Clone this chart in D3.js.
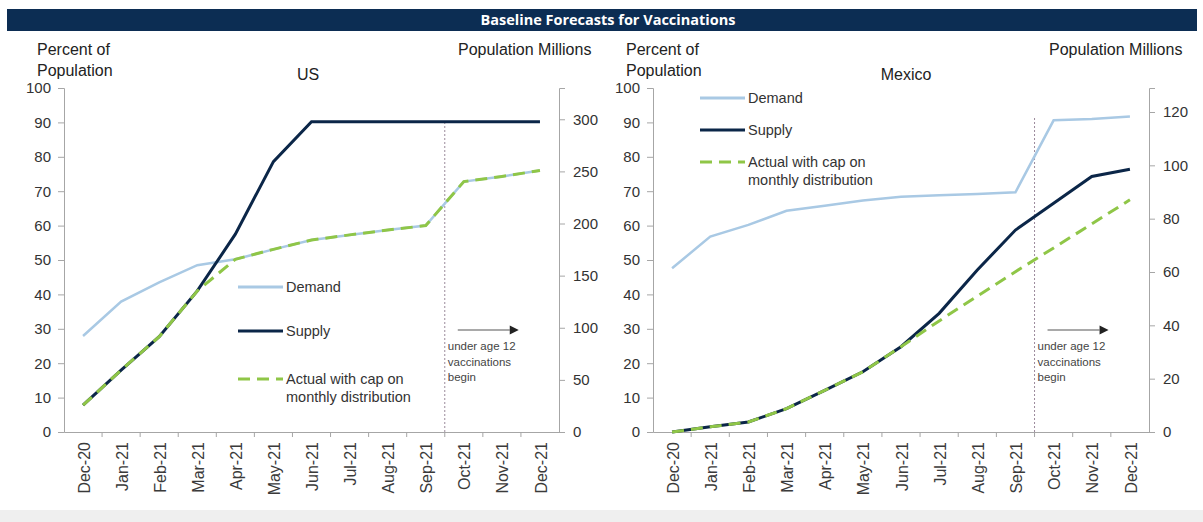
<!DOCTYPE html>
<html>
<head>
<meta charset="utf-8">
<script src="https://cdn.jsdelivr.net/npm/d3@7"></script>
<style>
  body { margin: 0; background: #fff; }
  svg { display: block; font-family: "Liberation Sans", Arial, sans-serif; }
</style>
</head>
<body>
<svg id="chart" width="1203" height="522"></svg>
<script>
// months along the bottom
var months = ["Dec-20", "Jan-21", "Feb-21", "Mar-21", "Apr-21", "May-21", "Jun-21",
              "Jul-21", "Aug-21", "Sep-21", "Oct-21", "Nov-21", "Dec-21"];

// US, percent of population
var usDemand = [27.9, 37.9, 43.5, 48.5, 50.2, 53.1, 55.8, 57.3, 58.7, 60, 72.8, 74.3, 76];
var usSupply = [7.8, 18, 27.7, 41, 57.5, 78.6, 90.2, 90.2, 90.2, 90.2, 90.2, 90.2, 90.2];
var usActual = [7.8, 18, 27.7, 41, 50.2, 53.1, 55.8, 57.3, 58.7, 60, 72.8, 74.3, 76];

// Mexico, percent of population
var mxDemand = [47.6, 56.8, 60.2, 64.3, 65.8, 67.3, 68.4, 68.8, 69.2, 69.7, 90.6, 91, 91.7];
var mxSupply = [0, 1.5, 2.9, 6.8, 12.1, 17.5, 24.8, 34.5, 47.1, 58.7, 66.5, 74.3, 76.4];
var mxActual = [0, 1.5, 2.9, 6.8, 12.1, 17.5, 24.8, 32.3, 39.5, 46.6, 53.5, 60.5, 67.5];

// axis ticks
var pctTicks = [0, 10, 20, 30, 40, 50, 60, 70, 80, 90, 100];
var usPopTicks = [0, 50, 100, 150, 200, 250, 300];
var mxPopTicks = [0, 20, 40, 60, 80, 100, 120];
var usPopMax = 330, mxPopMax = 129;

var colDemand = '#a9c9e4',
    colSupply = '#0b2648',
    colActual = '#8fc647',
    colAxis = '#a6a6a6';

var svg = d3.select('#chart');

// title bar
svg.append('rect')
  .attr('x', 7).attr('y', 9)
  .attr('width', 1190).attr('height', 22)
  .attr('fill', '#0c2d53');
svg.append('text')
  .attr('x', 608).attr('y', 25)
  .attr('text-anchor', 'middle')
  .style('font-family', '"Open Sans", sans-serif')
  .style('font-weight', 'bold')
  .style('font-size', '14.5px')
  .attr('fill', '#fff')
  .text('Baseline Forecasts for Vaccinations');

// grey strip at the very bottom
svg.append('rect')
  .attr('x', 0).attr('y', 510)
  .attr('width', 1203).attr('height', 12)
  .attr('fill', '#efefef');

var plotTop = 88, plotBottom = 432;

function drawPanel(p) {
  var g = svg.append('g');

  var x = d3.scaleBand().domain(months).range([p.left, p.right]);
  var y = d3.scaleLinear().domain([0, 100]).range([plotBottom, plotTop]);
  // right axis: whole population = 100 percent
  var yR = d3.scaleLinear().domain([0, p.popMax]).range([plotBottom, plotTop]);
  var cx = function(i) { return x(months[i]) + x.bandwidth() / 2; };

  // header texts
  g.append('text').attr('x', p.left - 27).attr('y', 55)
    .style('font-size', '16px').attr('fill', '#222').text('Percent of');
  g.append('text').attr('x', p.left - 27).attr('y', 76)
    .style('font-size', '16px').attr('fill', '#222').text('Population');
  g.append('text').attr('x', p.titleX).attr('y', 80)
    .attr('text-anchor', 'middle')
    .style('font-size', '16px').attr('fill', '#222').text(p.title);
  g.append('text').attr('x', p.popLabelX).attr('y', 55)
    .style('font-size', '16px').attr('fill', '#222').text('Population Millions');

  // left axis
  var yAxis = d3.axisLeft(y).tickValues(pctTicks).tickSize(6).tickPadding(7);
  var ga = g.append('g').attr('transform', 'translate(' + p.left + ',0)').call(yAxis);

  // right axis
  var yAxisR = d3.axisRight(yR).tickValues(p.popTicks).tickSize(6).tickPadding(8);
  var gr = g.append('g').attr('transform', 'translate(' + p.right + ',0)').call(yAxisR);

  // bottom axis, ticks on band boundaries
  var xAxis = d3.axisBottom(x).tickSize(0).tickFormat('');
  var gx = g.append('g').attr('transform', 'translate(0,' + plotBottom + ')').call(xAxis);
  g.selectAll('.xtick').data(months.slice(1)).enter().append('line')
    .attr('class', 'xtick')
    .attr('x1', function(d) { return x(d); }).attr('x2', function(d) { return x(d); })
    .attr('y1', plotBottom).attr('y2', plotBottom + 5)
    .attr('stroke', colAxis);

  [ga, gr, gx].forEach(function(a) {
    a.select('.domain').attr('stroke', colAxis);
    a.selectAll('.tick line').attr('stroke', colAxis);
    a.selectAll('.tick text')
      .style('font-family', '"Liberation Sans", Arial, sans-serif')
      .style('font-size', '15px').attr('fill', '#333');
  });

  // month labels
  g.selectAll('.mlabel').data(months).enter().append('text')
    .attr('class', 'mlabel')
    .attr('transform', function(d, i) { return 'translate(' + (cx(i) + 1) + ',' + (plotBottom + 10) + ') rotate(-90)'; })
    .attr('text-anchor', 'end')
    .attr('dy', '0.35em')
    .style('font-size', '16px')
    .attr('fill', '#3a3a3a')
    .text(function(d) { return d; });

  // under age 12 marker
  var bx = x(months[10]);
  g.append('line')
    .attr('x1', bx).attr('x2', bx)
    .attr('y1', p.markTop).attr('y2', plotBottom)
    .attr('stroke', '#9b8a9b').attr('stroke-width', 1)
    .attr('stroke-dasharray', '2,2');

  var line = d3.line()
    .x(function(d, i) { return cx(i); })
    .y(function(d) { return y(d); });

  g.append('path').datum(p.demand)
    .attr('d', line).attr('fill', 'none')
    .attr('stroke', colDemand).attr('stroke-width', 2.5);
  g.append('path').datum(p.supply)
    .attr('d', line).attr('fill', 'none')
    .attr('stroke', colSupply).attr('stroke-width', 3);
  g.append('path').datum(p.actual)
    .attr('d', line).attr('fill', 'none')
    .attr('stroke', colActual).attr('stroke-width', 3)
    .attr('stroke-dasharray', '12,7');

  // legend
  var lg = g.append('g').attr('transform', 'translate(' + p.legX + ',' + p.legY + ')');
  var items = [
    { label: ['Demand'], color: colDemand, dash: null, dy: 0 },
    { label: ['Supply'], color: colSupply, dash: null, dy: p.legGap },
    { label: ['Actual with cap on', 'monthly distribution'], color: colActual, dash: '12,7', dy: p.legGap2 }
  ];
  items.forEach(function(it) {
    lg.append('line')
      .attr('x1', 0).attr('x2', 45)
      .attr('y1', it.dy).attr('y2', it.dy)
      .attr('stroke', it.color).attr('stroke-width', 3)
      .attr('stroke-dasharray', it.dash);
    it.label.forEach(function(t, k) {
      lg.append('text')
        .attr('x', 48).attr('y', it.dy + k * 18)
        .attr('dy', '0.35em')
        .style('font-size', '14.5px').attr('fill', '#333')
        .text(t);
    });
  });

  // arrow and note
  var ax = bx + 13;
  g.append('line')
    .attr('x1', ax).attr('x2', ax + 52)
    .attr('y1', 330).attr('y2', 330)
    .attr('stroke', '#555').attr('stroke-width', 1.2);
  g.append('path')
    .attr('d', 'M' + (ax + 52) + ',325.5L' + (ax + 61) + ',330L' + (ax + 52) + ',334.5Z')
    .attr('fill', '#222');
  ['under age 12', 'vaccinations', 'begin'].forEach(function(t, k) {
    g.append('text')
      .attr('x', bx + 3).attr('y', 346 + k * 15.5)
      .attr('dy', '0.35em')
      .style('font-size', '11.5px').attr('fill', '#444')
      .text(t);
  });
}

drawPanel({
  left: 64, right: 559, title: 'US', titleX: 308, popLabelX: 458,
  popMax: usPopMax, popTicks: usPopTicks,
  demand: usDemand, supply: usSupply, actual: usActual,
  markTop: 122, legX: 238, legY: 287, legGap: 44, legGap2: 92
});

drawPanel({
  left: 653, right: 1149, title: 'Mexico', titleX: 906, popLabelX: 1049,
  popMax: mxPopMax, popTicks: mxPopTicks,
  demand: mxDemand, supply: mxSupply, actual: mxActual,
  markTop: 118, legX: 700, legY: 98, legGap: 32, legGap2: 64
});
</script>
</body>
</html>
